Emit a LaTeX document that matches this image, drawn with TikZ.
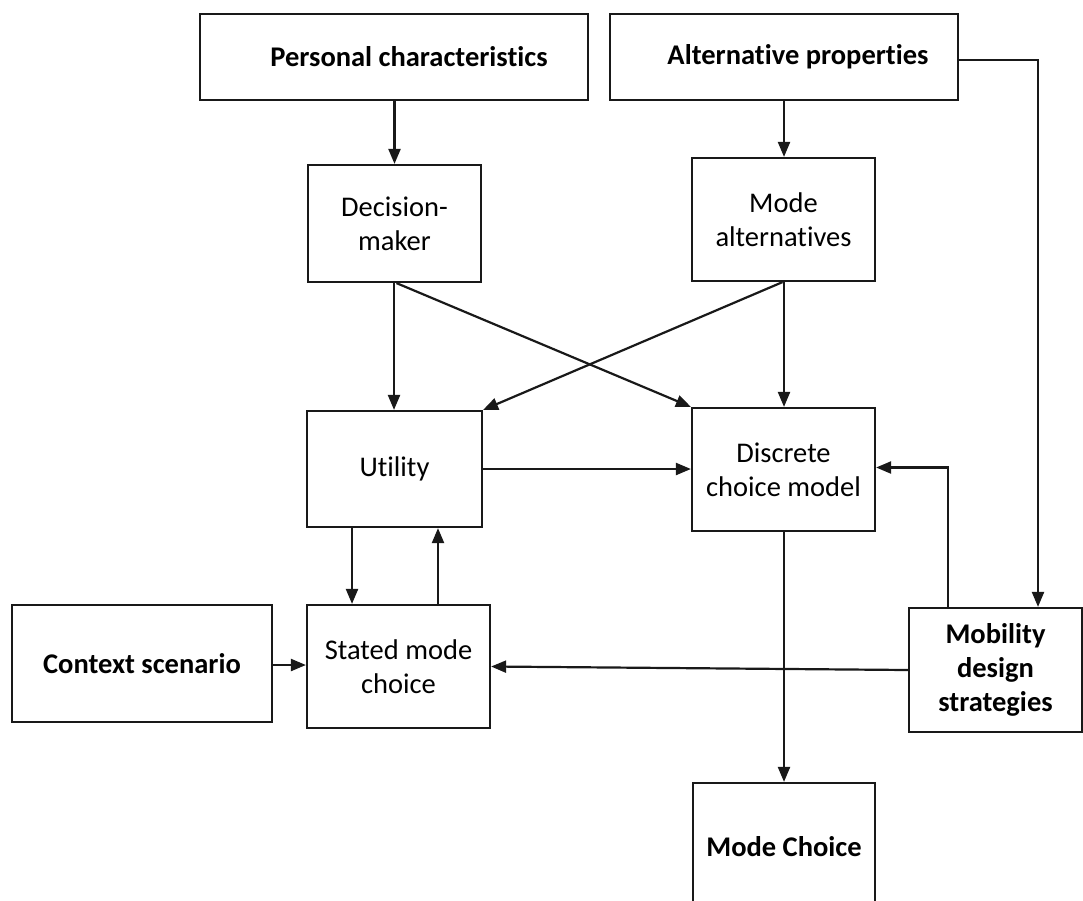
\documentclass[tikz,border=0pt]{standalone}
\usepackage{fontspec}
\setmainfont{Carlito}[RawFeature=-liga]
\usetikzlibrary{arrows.meta,calc}
\begin{document}
\begin{tikzpicture}[x=1pt,y=-1pt,
  box/.style={draw=black!90,line width=2.2pt,align=center,inner sep=0pt,
    font=\fontsize{28.5}{34}\selectfont},
  bbox/.style={box,font=\fontsize{28.5}{34}\selectfont\bfseries},
  arr/.style={line width=2.2pt,draw=black!90,-{Triangle[length=15pt,width=12pt]}}]
\clip (0,0) rectangle (1083,900);
\useasboundingbox (0,0) rectangle (1083,900);
\node[bbox,minimum width=388pt,minimum height=86pt] (pc) at (394,57) {};
\node[font=\fontsize{28.5}{34}\selectfont\bfseries] (pct) at (409,57) {Personal characteristics};
\node[bbox,minimum width=348pt,minimum height=86pt] (ap) at (784,57) {};
\node[font=\fontsize{28.5}{34}\selectfont\bfseries] (apt) at (798,57) {Alternative properties};
\node[box,minimum width=173pt,minimum height=117pt] (dm) at (394.5,223.5) {Decision-\\maker};
\node[box,minimum width=183pt,minimum height=123pt] (ma) at (783.5,219.5) {Mode\\alternatives};
\node[box,minimum width=175pt,minimum height=116pt] (ut) at (394.5,469) {Utility};
\node[box,minimum width=183pt,minimum height=123pt] (dc) at (783.5,469.5) {Discrete\\choice model};
\node[bbox,minimum width=260pt,minimum height=117pt] (cs) at (142,663.5) {Context scenario};
\node[box,minimum width=183pt,minimum height=123pt] (sm) at (398.5,666.5) {Stated mode\\choice};
\node[bbox,minimum width=173pt,minimum height=124pt] (mds) at (995.5,670) {Mobility\\design\\strategies};
\node[bbox,minimum width=182pt,minimum height=127pt] (mc) at (784,846.5) {Mode Choice};
\draw[arr] (pc.south -| dm.north) -- (dm.north);
\draw[arr] (ap.south -| 784,0) -- (784,0 |- ma.north);
\draw[arr] ([yshift=-3pt]ap.east) -| (1038,0 |- mds.north);
\draw[arr] (dm.south -| 394,0) -- (394,0 |- ut.north);
\draw[arr] ([xshift=2pt]dm.south) -- (dc.north west);
\draw[arr] ([xshift=-1pt]ma.south) -- (ut.north east);
\draw[arr] (ma.south -| 784,0) -- (784,0 |- dc.north);
\draw[arr] (ut.east) -- (ut.east -| dc.west);
\draw[arr] (mds.north -| 948,0) |- ([yshift=2pt]dc.east);
\draw[arr] (ut.south -| 352,0) -- (352,0 |- sm.north);
\draw[arr] (sm.north -| 438,0) -- (438,0 |- ut.south);
\draw[arr] (cs.east |- 0,665) -- (sm.west |- 0,665);
\draw[arr] (mds.west) -- (sm.east);
\draw[arr] (dc.south -| 784,0) -- (784,0 |- mc.north);
\end{tikzpicture}
\end{document}
